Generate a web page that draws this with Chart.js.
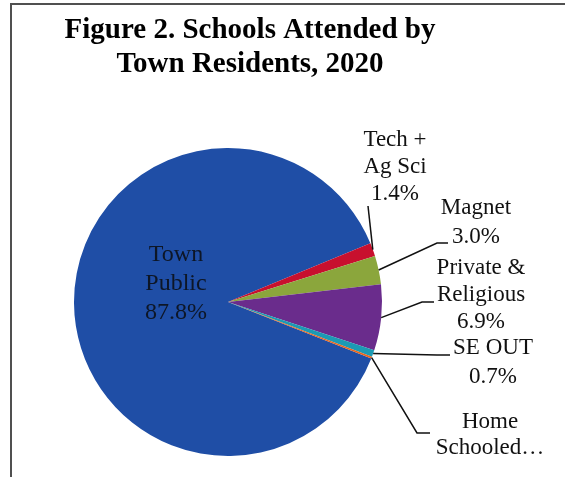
<!DOCTYPE html>
<html>
<head>
<meta charset="utf-8">
<script src="https://cdn.jsdelivr.net/npm/chart.js@4.4.1/dist/chart.umd.min.js"></script>
<style>
  html, body { margin: 0; padding: 0; background: #fff; }
</style>
</head>
<body>
<canvas id="pie" width="565" height="477"></canvas>
<script>
// data
const categories = ['Town Public', 'Tech + Ag Sci', 'Magnet', 'Private & Religious', 'SE OUT', 'Home Schooled'];
const shares = [87.8, 1.4, 3.0, 6.9, 0.7, 0.2];
const labelLines = [['Town', 'Public'], ['Tech +', 'Ag Sci'], ['Magnet'], ['Private &', 'Religious'], ['SE OUT'], ['Home', 'Schooled…']];
const showPct = [true, true, true, true, true, false];
const sliceColors = ['#1f4ea6', '#c8102e', '#8ba63c', '#6a2c8c', '#1c9ab4', '#e8641c'];
const titleLines = ['Figure 2. Schools Attended by', 'Town Residents, 2020'];

// label placement, offsets from pie centre (layout only)
const labelLayout = [
  { tx: -52, ty: -47, gap: 29, size: 24, path: null },
  { tx: 167, ty: -162, gap: 27, size: 23, path: [[140, -96]] },
  { tx: 248, ty: -94, gap: 29, size: 23, path: [[209, -59], [220, -59]] },
  { tx: 253, ty: -34, gap: 27, size: 23, path: [[194, 0], [206, 0]] },
  { tx: 265, ty: 46, gap: 29, size: 23, path: [[209, 53], [222, 53]] },
  { tx: 262, ty: 120, gap: 26, size: 23, path: [[189, 131], [202, 131]] },
];

const FONT = "'Liberation Serif', 'Times New Roman', serif";

// page frame + title (title sits off the pie's centre line, so drawn here)
const framePlugin = {
  id: 'frame',
  beforeDraw(chart) {
    const ctx = chart.ctx;
    ctx.save();
    ctx.strokeStyle = '#505050';
    ctx.lineWidth = 2;
    ctx.beginPath();
    ctx.moveTo(11, chart.height);
    ctx.lineTo(11, 4);
    ctx.lineTo(chart.width, 4);
    ctx.stroke();

    ctx.fillStyle = '#000';
    ctx.font = `bold 29px ${FONT}`;
    ctx.textAlign = 'center';
    ctx.textBaseline = 'alphabetic';
    titleLines.forEach((t, k) => ctx.fillText(t, 250, 38 + k * 34));
    ctx.restore();
  },
};

const sliceLabels = {
  id: 'sliceLabels',
  afterDraw(chart) {
    const ctx = chart.ctx;
    const meta = chart.getDatasetMeta(0);
    ctx.save();
    meta.data.forEach((arc, i) => {
      const { x, y, startAngle, endAngle, outerRadius } = arc.getProps(
        ['x', 'y', 'startAngle', 'endAngle', 'outerRadius'],
        true,
      );
      const lay = labelLayout[i];
      const mid = (startAngle + endAngle) / 2;

      // leader line from slice edge
      if (lay.path) {
        ctx.strokeStyle = '#111';
        ctx.lineWidth = 1.5;
        ctx.beginPath();
        ctx.moveTo(x + Math.cos(mid) * outerRadius, y + Math.sin(mid) * outerRadius);
        lay.path.forEach((p) => ctx.lineTo(x + p[0], y + p[1]));
        ctx.stroke();
      }

      const lines = labelLines[i].slice();
      if (showPct[i]) lines.push(shares[i].toFixed(1) + '%');
      ctx.font = `${lay.size}px ${FONT}`;
      ctx.fillStyle = i === 0 ? '#0d1626' : '#111';
      ctx.textAlign = 'center';
      ctx.textBaseline = 'middle';
      lines.forEach((t, k) => {
        ctx.fillText(t, x + lay.tx, y + lay.ty + k * lay.gap);
      });
    });
    ctx.restore();
  },
};

new Chart(document.getElementById('pie'), {
  type: 'pie',
  data: {
    labels: categories,
    datasets: [
      {
        data: shares,
        backgroundColor: sliceColors,
        borderWidth: 0,
      },
    ],
  },
  options: {
    responsive: false,
    animation: false,
    rotation: 111.5,
    layout: {
      padding: { left: 20, right: 129, top: 148, bottom: 21 },
    },
    plugins: {
      legend: { display: false },
      tooltip: { enabled: false },
      title: { display: false },
    },
  },
  plugins: [framePlugin, sliceLabels],
});
</script>
</body>
</html>
